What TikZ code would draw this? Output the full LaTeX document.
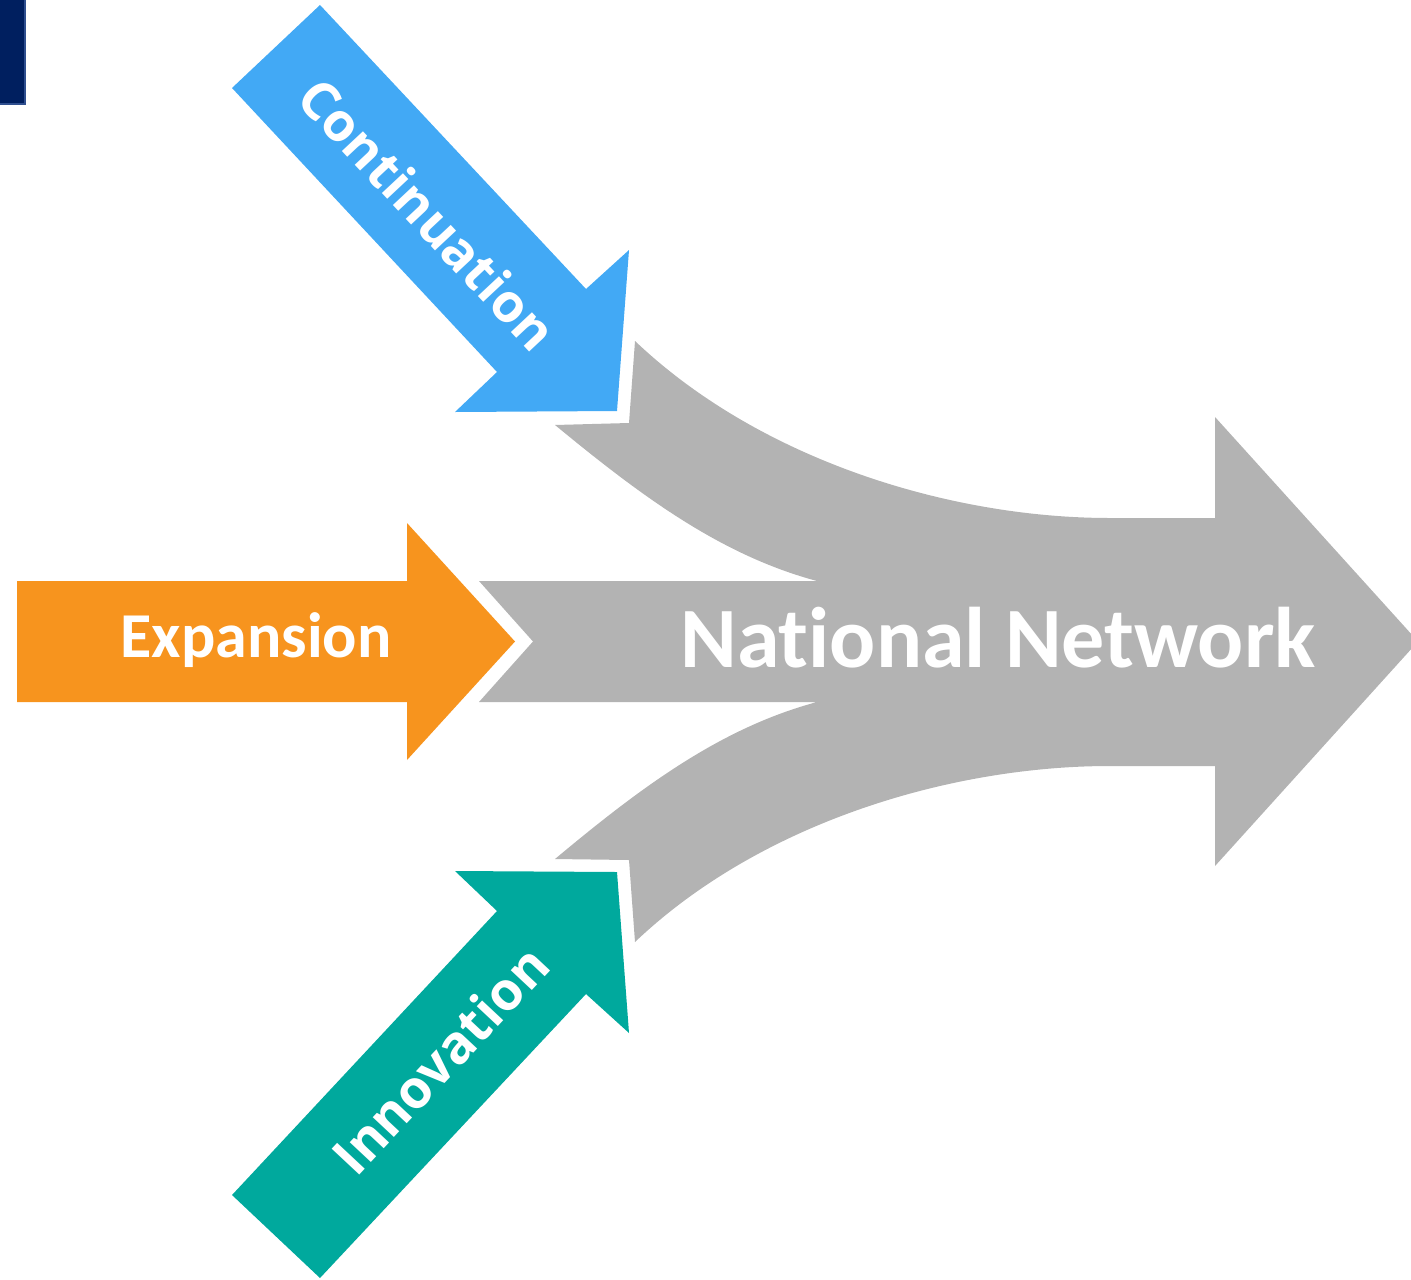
\documentclass[tikz,border=0pt]{standalone}
\usepackage{fontspec}
\setmainfont{Carlito}[Ligatures={NoCommon}]
\newfontfamily\osans{Open Sans}
\definecolor{navybar}{HTML}{001F5F}
\definecolor{navyedge}{HTML}{2F4F8F}
\definecolor{arrowblue}{HTML}{42A9F5}
\definecolor{arrowteal}{HTML}{00A99D}
\definecolor{arroworange}{HTML}{F7941E}
\definecolor{arrowgray}{HTML}{B3B3B3}
\tikzset{
  lbl/.style={text=white, inner sep=0pt},
  diaglbl/.style={lbl, font=\osans\bfseries\fontsize{26.5}{26.5}\selectfont},
}
\begin{document}
\begin{tikzpicture}[x=0.5pt,y=-0.5pt]
\useasboundingbox (0,0) rectangle (1411,1279);
\clip (0,0) rectangle (1411,1279);
% navy bar
\fill[navybar, draw=navyedge, line width=0.6pt] (-2,-2) rectangle (25,104);
% gray merging arrow
\fill[arrowgray] (635,341) .. controls (760,460) and (950,518) .. (1110,518) -- (1215,518) -- (1215,417) -- (1418,641.5) -- (1215,866) -- (1215,766) -- (1110,766)
  .. controls (950,766) and (760,823) .. (635,942) -- (629,860) -- (555,859)
  .. controls (640,788) and (720,728) .. (817,702) -- (479,702) -- (533,641.5) -- (479,581) -- (817,581)
  .. controls (720,555) and (640,495) .. (555,425) -- (629,423) -- cycle;
% blue arrow
\fill[arrowblue] (320,5) -- (586,289) -- (629,250) -- (617,411) -- (455,412) -- (497,372) -- (232,88) -- cycle;
% teal arrow
\fill[arrowteal] (320,1278) -- (586,994) -- (629,1033) -- (617,872) -- (455,871) -- (497,911) -- (232,1195) -- cycle;
% orange arrow
\fill[arroworange] (17,581) -- (407,581) -- (407,523) -- (515,641.5) -- (407,760) -- (407,702) -- (17,702) -- cycle;
% labels
\node[lbl, font=\bfseries\fontsize{32}{32}\selectfont, anchor=base] (exp) at (256,657) {Expansion};
\node[lbl, font=\bfseries\fontsize{43}{43}\selectfont, anchor=base] (nat) at (998,667) {National Network};
\node[diaglbl, rotate=-46.9] (cont) at (428,214) {Continuation};
\node[diaglbl, rotate=46.9] (inno) at (440,1060) {Innovation};
\end{tikzpicture}
\end{document}
